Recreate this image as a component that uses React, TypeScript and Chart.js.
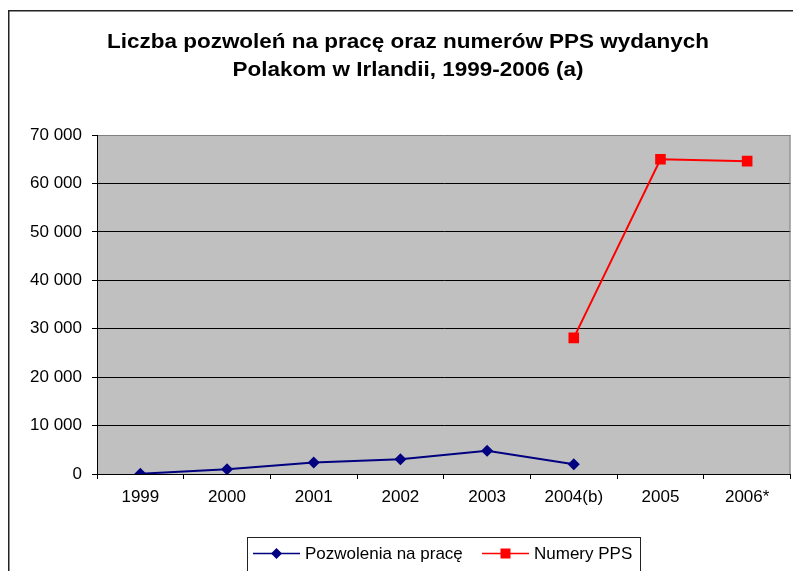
import React, { useEffect, useRef } from "react";
import { Chart, registerables } from "chart.js";

Chart.register(...registerables);

const CATEGORIES = ["1999", "2000", "2001", "2002", "2003", "2004(b)", "2005", "2006*"];
const WORK_PERMITS: (number | null)[] = [50, 970, 2350, 3050, 4780, 2000, null, null];
const PPS_NUMBERS: (number | null)[] = [null, null, null, null, null, 28100, 65000, 64600];
const SERIES_LABELS = ["Pozwolenia na pracę", "Numery PPS"];
const TITLE_LINES = ["Liczba pozwoleń na pracę oraz numerów PPS wydanych", "Polakom w Irlandii, 1999-2006 (a)"];
const Y_MIN = 0;
const Y_MAX = 70000;
const Y_STEP = 10000;

const FONT_FAMILY = "'Liberation Sans', Arial, sans-serif";

function fmt(v: number): string {
  return String(Math.round(v)).replace(/\B(?=(\d{3})+(?!\d))/g, " ");
}

const decorPlugin = {
  id: "decor",
  beforeDraw(chart: any) {
    const { ctx, chartArea: a } = chart;
    ctx.save();
    // outer frame
    ctx.strokeStyle = "#222";
    ctx.lineWidth = 1.5;
    ctx.beginPath();
    ctx.moveTo(8.75, 800);
    ctx.lineTo(8.75, 10.75);
    ctx.lineTo(900, 10.75);
    ctx.stroke();
    // plot background
    ctx.fillStyle = "#C0C0C0";
    ctx.fillRect(a.left, a.top, a.right - a.left, a.bottom - a.top);
    // title
    ctx.fillStyle = "#000";
    ctx.font = `bold 20px ${FONT_FAMILY}`;
    ctx.textAlign = "center";
    ctx.textBaseline = "alphabetic";
    const w0 = ctx.measureText(TITLE_LINES[0]).width;
    const sx = 602 / w0;
    TITLE_LINES.forEach((line, i) => {
      ctx.save();
      ctx.translate(408, 47.5 + i * 28.5);
      ctx.scale(sx, 1);
      ctx.fillText(line, 0, 0);
      ctx.restore();
    });
    ctx.restore();
  },
  beforeDatasetsDraw(chart: any) {
    const { ctx, chartArea: a } = chart;
    ctx.save();
    ctx.strokeStyle = "#808080";
    ctx.lineWidth = 1;
    ctx.beginPath();
    ctx.moveTo(a.right - 0.5, a.top);
    ctx.lineTo(a.right - 0.5, a.bottom);
    ctx.stroke();
    ctx.restore();
  },
  afterDraw(chart: any) {
    const { ctx } = chart;
    const ds = chart.data.datasets;
    ctx.save();
    ctx.font = `17px ${FONT_FAMILY}`;
    const boxL = 247.5;
    const boxR = 640.5;
    const boxT = 537.5;
    ctx.strokeStyle = "#222";
    ctx.lineWidth = 1;
    ctx.fillStyle = "#fff";
    ctx.fillRect(boxL, boxT, boxR - boxL, 60);
    ctx.strokeRect(boxL, boxT, boxR - boxL, 60);
    const starts = [253, 482];
    const lineLen = 47;
    const y = 553.5;
    ds.forEach((d: any, i: number) => {
      const x = starts[i];
      ctx.strokeStyle = d.borderColor;
      ctx.lineWidth = 1.5;
      ctx.beginPath();
      ctx.moveTo(x, y);
      ctx.lineTo(x + lineLen, y);
      ctx.stroke();
      ctx.fillStyle = d.pointBackgroundColor;
      const mx = x + lineLen / 2;
      ctx.beginPath();
      if (d.pointStyle === "rectRot") {
        const r = 5.5;
        ctx.moveTo(mx, y - r);
        ctx.lineTo(mx + r, y);
        ctx.lineTo(mx, y + r);
        ctx.lineTo(mx - r, y);
        ctx.closePath();
      } else {
        ctx.rect(mx - 5, y - 5, 10, 10);
      }
      ctx.fill();
      ctx.fillStyle = "#000";
      ctx.textAlign = "left";
      ctx.textBaseline = "middle";
      ctx.fillText(d.label, x + lineLen + 5, y + 1);
    });
    ctx.restore();
  },
};

export default function App() {
  const ref = useRef<HTMLCanvasElement | null>(null);

  useEffect(() => {
    if (!ref.current) return;
    const chart = new Chart(ref.current, {
      type: "line",
      data: {
        labels: CATEGORIES,
        datasets: [
          {
            label: SERIES_LABELS[0],
            data: WORK_PERMITS,
            borderColor: "#000080",
            backgroundColor: "#000080",
            pointBackgroundColor: "#000080",
            pointBorderColor: "#000080",
            pointStyle: "rectRot",
            pointRadius: 6,
            pointBorderWidth: 0,
            borderWidth: 2,
            spanGaps: false,
          },
          {
            label: SERIES_LABELS[1],
            data: PPS_NUMBERS,
            borderColor: "#FF0000",
            backgroundColor: "#FF0000",
            pointBackgroundColor: "#FF0000",
            pointBorderColor: "#FF0000",
            pointStyle: "rect",
            pointRadius: 7.5,
            pointBorderWidth: 0,
            borderWidth: 2,
            spanGaps: false,
          },
        ],
      },
      options: {
        animation: false,
        responsive: false,
        devicePixelRatio: 1,
        layout: { padding: { left: 0, top: 135, right: 2, bottom: 0 } },
        plugins: {
          legend: { display: false },
          title: { display: false },
          tooltip: { enabled: false },
        },
        scales: {
          x: {
            type: "category",
            offset: true,
            grid: {
              offset: true,
              drawOnChartArea: false,
              drawTicks: true,
              tickLength: 5,
              tickColor: "#000",
              color: "#000",
            },
            border: { display: true, color: "#000", width: 1 },
            ticks: {
              color: "#000",
              font: { family: FONT_FAMILY, size: 17 },
              padding: 8,
              maxRotation: 0,
              autoSkip: false,
            },
            afterFit(scale: any) {
              scale.height = 97;
            },
          },
          y: {
            min: Y_MIN,
            max: Y_MAX,
            grid: {
              color: (c: any) => (c.tick && c.tick.value === Y_MAX ? "#808080" : "#000"),
              tickColor: "#000",
              tickLength: 5,
              lineWidth: 1,
            },
            border: { display: true, color: "#000", width: 1 },
            ticks: {
              stepSize: Y_STEP,
              color: "#000",
              font: { family: FONT_FAMILY, size: 17 },
              padding: 10,
              callback: (v: any) => fmt(Number(v)),
            },
            afterFit(scale: any) {
              scale.width = 97;
            },
          },
        },
      },
      plugins: [decorPlugin],
    });
    return () => chart.destroy();
  }, []);

  return (
    <div style={{ position: "fixed", left: 0, top: 0, width: 793, height: 571, overflow: "hidden", background: "#fff" }}>
      <canvas ref={ref} width={798} height={571} style={{ display: "block", width: 798, height: 571 }} />
    </div>
  );
}
